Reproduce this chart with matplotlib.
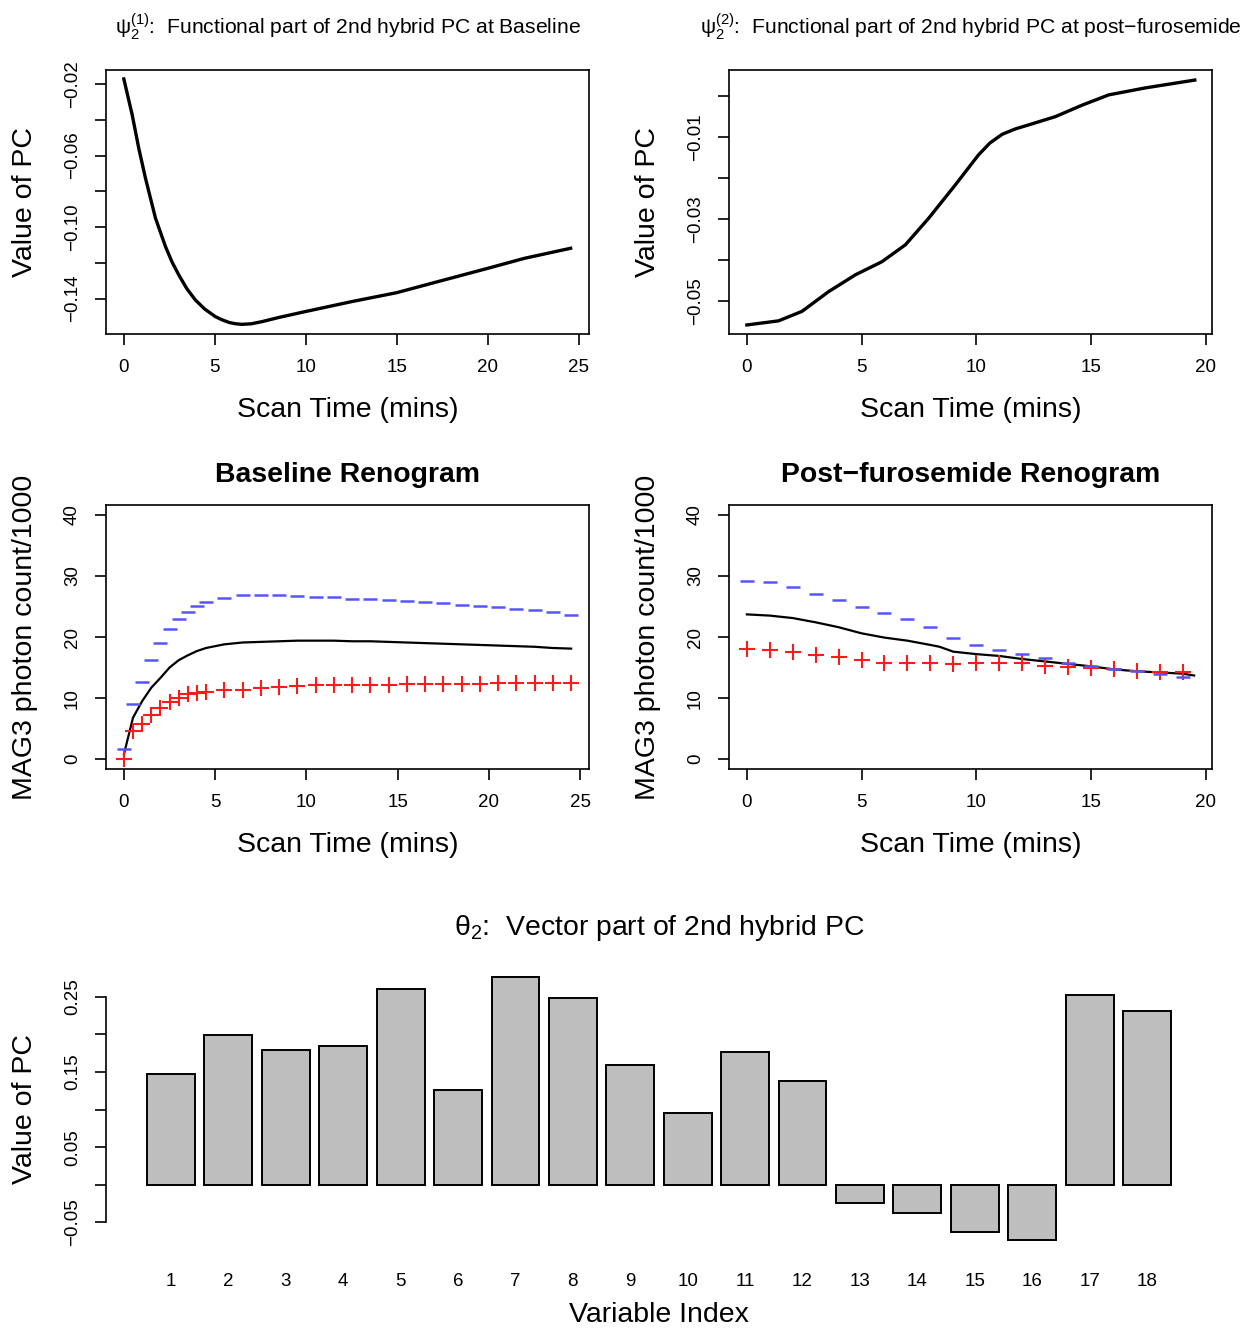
import matplotlib
matplotlib.use('Agg')
import matplotlib.pyplot as plt
import numpy as np

plt.rcParams['font.family'] = ['Liberation Sans', 'DejaVu Sans']
plt.rcParams['mathtext.fontset'] = 'dejavusans'
plt.rcParams['mathtext.default'] = 'regular'

MINUS = '\u2212'

# top-left: functional part at baseline
t_base_pc = [0, 0.46, 0.82, 1.19, 1.74, 2.29, 2.65, 3.02, 3.45, 3.93, 4.45,
             5.03, 5.4, 5.8, 6.15, 6.49, 7.0, 7.59, 8.5, 9.96, 12.52, 15,
             17.27, 20, 22.02, 24.55]
pc_base = [-0.0172, -0.0373, -0.0559, -0.0727, -0.095, -0.1109, -0.1195,
           -0.1267, -0.1342, -0.1407, -0.1458, -0.150, -0.1518, -0.1533,
           -0.1540, -0.1543, -0.1540, -0.1528, -0.1505, -0.1472, -0.1416,
           -0.1366, -0.1304, -0.123, -0.1174, -0.1118]

# top-right: functional part at post-furosemide
t_post_pc = [0, 1.38, 2.4, 3.56, 4.73, 5.89, 6.91, 7.93, 9.09, 10.1, 10.6,
             11.13, 11.7, 12.29, 13.45, 14.62, 15.78, 17.38, 19.53]
pc_post = [-0.0558, -0.0548, -0.0525, -0.0477, -0.0436, -0.0404, -0.0363,
           -0.0298, -0.0217, -0.0144, -0.0115, -0.0094, -0.0081, -0.0071,
           -0.0051, -0.0023, 0.0002, 0.0019, 0.0038]

# middle-left: baseline renogram
t_base = [0, 0.5, 1.0, 1.5, 2.0, 2.5, 3.0, 3.5, 4.0, 4.5, 5.5, 6.5, 7.5, 8.5,
          9.5, 10.5, 11.5, 12.5, 13.5, 14.5, 15.5, 16.5, 17.5, 18.5, 19.5,
          20.5, 21.5, 22.5, 23.5, 24.5]
base_mean = [0.8, 6.8, 9.5, 11.7, 13.3, 15.0, 16.2, 17.0, 17.7, 18.2, 18.8,
             19.1, 19.2, 19.3, 19.4, 19.4, 19.4, 19.3, 19.3, 19.2, 19.1, 19.0,
             18.9, 18.8, 18.7, 18.6, 18.5, 18.4, 18.2, 18.1]
base_plus = [0, 4.6, 5.8, 7.2, 8.4, 9.4, 10.0, 10.6, 10.8, 11.0, 11.3, 11.4,
             11.6, 11.8, 12.0, 12.1, 12.1, 12.2, 12.2, 12.2, 12.3, 12.3, 12.3,
             12.3, 12.3, 12.4, 12.4, 12.4, 12.4, 12.4]
base_minus = [1.6, 9.1, 12.7, 16.3, 19.1, 21.3, 22.9, 24.1, 25.0, 25.8, 26.4,
              26.8, 26.9, 26.8, 26.7, 26.6, 26.5, 26.3, 26.2, 26.1, 25.9, 25.7,
              25.5, 25.2, 25.1, 24.9, 24.6, 24.4, 24.1, 23.6]

# middle-right: post-furosemide renogram
t_post = [0, 1, 2, 3, 4, 5, 6, 7, 8, 9, 10, 11, 12, 13, 14, 15, 16, 17, 18, 19]
t_post_line = [0, 1, 2, 3, 4, 5, 6, 7, 8, 8.4, 9, 10, 11, 12, 13, 14, 15, 16,
               17, 18, 19, 19.5]
post_mean = [23.7, 23.5, 23.1, 22.4, 21.6, 20.6, 19.9, 19.4, 18.7, 18.4, 17.6,
             17.2, 16.9, 16.4, 16.0, 15.6, 15.2, 14.7, 14.4, 14.2, 14.0, 13.7]
post_plus = [18.1, 17.9, 17.5, 17.1, 16.8, 16.2, 15.8, 15.7, 15.7, 15.6, 15.7,
             15.8, 15.7, 15.3, 15.1, 15.0, 14.7, 14.5, 14.3, 14.2]
post_minus = [29.2, 29.0, 28.2, 27.0, 26.0, 24.9, 23.9, 23.0, 21.6, 19.9, 18.7,
              17.8, 17.2, 16.5, 15.7, 15.2, 14.7, 14.4, 14.0, 13.5]

# bottom: vector part
var_index = list(range(1, 19))
theta2 = [0.147, 0.199, 0.179, 0.184, 0.260, 0.126, 0.277, 0.249, 0.160,
          0.095, 0.176, 0.138, -0.024, -0.038, -0.063, -0.074, 0.252, 0.231]

W, H = 1259, 1329
fig = plt.figure(figsize=(W / 100, H / 100), dpi=100)

LABEL_FS = 20.5
TICK_FS = 13.5


def px_axes(x0, y0, x1, y1):
    return fig.add_axes([x0 / W, 1 - y1 / H, (x1 - x0) / W, (y1 - y0) / H])


def r_style(ax, ylab_x=-0.168, xlab_y=-0.288):
    for s in ax.spines.values():
        s.set_linewidth(1.2)
    ax.tick_params(direction='out', length=8, width=1.2, labelsize=TICK_FS,
                   pad=10)
    ax.tick_params(axis='y', labelrotation=90)
    for lab in ax.get_yticklabels():
        lab.set_va('center')
    ax.xaxis.label.set_va('center')
    ax.yaxis.label.set_va('center')
    ax.yaxis.set_label_coords(ylab_x, 0.5)
    ax.xaxis.set_label_coords(0.5, xlab_y)


def set_yticks(ax, ticks, labeled):
    ax.set_yticks(ticks)
    ax.set_yticklabels([(f'{v:.2f}'.replace('-', MINUS) if v in labeled else '')
                        for v in ticks])


# top-left
ax1 = px_axes(106, 70, 589, 334)
ax1.plot(t_base_pc, pc_base, color='black', lw=2.4)
ax1.set_xlim(-0.98, 25.56)
ax1.set_ylim(-0.1597, -0.0122)
ax1.set_xticks([0, 5, 10, 15, 20, 25])
set_yticks(ax1, [-0.02, -0.04, -0.06, -0.08, -0.10, -0.12, -0.14],
           [-0.02, -0.06, -0.10, -0.14])
ax1.set_xlabel('Scan Time (mins)', fontsize=LABEL_FS)
ax1.set_ylabel('Value of PC', fontsize=LABEL_FS)
r_style(ax1)
ax1.text(0.5, 1.163, r'$\psi_2^{(1)}$:  Functional part of 2nd hybrid PC at Baseline',
         transform=ax1.transAxes, ha='center', va='center', fontsize=15.2)

# top-right
ax2 = px_axes(729, 70, 1212, 334)
ax2.plot(t_post_pc, pc_post, color='black', lw=2.4)
ax2.set_xlim(-0.78, 20.28)
ax2.set_ylim(-0.058, 0.00625)
ax2.set_xticks([0, 5, 10, 15, 20])
set_yticks(ax2, [0.0, -0.01, -0.02, -0.03, -0.04, -0.05],
           [-0.01, -0.03, -0.05])
ax2.set_xlabel('Scan Time (mins)', fontsize=LABEL_FS)
ax2.set_ylabel('Value of PC', fontsize=LABEL_FS)
r_style(ax2)
ax2.text(0.5, 1.163,
         r'$\psi_2^{(2)}$:  Functional part of 2nd hybrid PC at post' + MINUS + 'furosemide',
         transform=ax2.transAxes, ha='center', va='center', fontsize=15.2)

# middle-left
ax3 = px_axes(106, 505, 589, 769)
ax3.plot(t_base, base_mean, color='black', lw=1.6)
ax3.plot(t_base, base_plus, ls='none', marker='+', ms=11, mew=1.5,
         color='#ff1a1a')
ax3.plot(t_base, base_minus, ls='none', marker='_', ms=10, mew=1.8,
         color='#5555ff')
ax3.set_xlim(-0.98, 25.48)
ax3.set_ylim(-1.6, 41.6)
ax3.set_xticks([0, 5, 10, 15, 20, 25])
ax3.set_yticks([0, 10, 20, 30, 40])
ax3.set_xlabel('Scan Time (mins)', fontsize=LABEL_FS)
ax3.set_ylabel('MAG3 photon count/1000', fontsize=LABEL_FS)
r_style(ax3)
ax3.text(0.5, 1.114, 'Baseline Renogram', transform=ax3.transAxes,
         ha='center', va='center', fontsize=20.4, fontweight='bold')

# middle-right
ax4 = px_axes(729, 505, 1212, 769)
ax4.plot(t_post_line, post_mean, color='black', lw=1.6)
ax4.plot(t_post, post_plus, ls='none', marker='+', ms=11, mew=1.5,
         color='#ff1a1a')
ax4.plot(t_post, post_minus, ls='none', marker='_', ms=10, mew=1.8,
         color='#5555ff')
ax4.set_xlim(-0.78, 20.28)
ax4.set_ylim(-1.6, 41.6)
ax4.set_xticks([0, 5, 10, 15, 20])
ax4.set_yticks([0, 10, 20, 30, 40])
ax4.set_xlabel('Scan Time (mins)', fontsize=LABEL_FS)
ax4.set_ylabel('MAG3 photon count/1000', fontsize=LABEL_FS)
r_style(ax4)
ax4.text(0.5, 1.114, 'Post' + MINUS + 'furosemide Renogram',
         transform=ax4.transAxes, ha='center', va='center', fontsize=20.4,
         fontweight='bold')

# bottom bar chart
ax5 = px_axes(106, 966, 1212, 1251)
centers = 0.7 + 1.2 * np.arange(len(var_index))
ax5.bar(centers, theta2, width=1.0, color='#bebebe', edgecolor='black',
        linewidth=1.4)
ax5.set_xlim(-0.656, 22.456)
ax5.set_ylim(-0.088, 0.291)
for side in ['top', 'right', 'bottom']:
    ax5.spines[side].set_visible(False)
ax5.spines['left'].set_bounds(-0.05, 0.25)
ax5.set_xticks(centers)
ax5.set_xticklabels([str(i) for i in var_index])
set_yticks(ax5, [-0.05, 0.0, 0.05, 0.10, 0.15, 0.20, 0.25],
           [-0.05, 0.05, 0.15, 0.25])
ax5.set_xlabel('Variable Index', fontsize=LABEL_FS)
ax5.set_ylabel('Value of PC', fontsize=LABEL_FS)
r_style(ax5, ylab_x=-81 / 1106, xlab_y=-64 / 285)
ax5.tick_params(axis='x', length=0, pad=16)
ax5.text(0.5, 1.133, r'$\theta_2$:  Vector part of 2nd hybrid PC',
         transform=ax5.transAxes, ha='center', va='center', fontsize=20.4)

fig.savefig('out.png', dpi=100)
